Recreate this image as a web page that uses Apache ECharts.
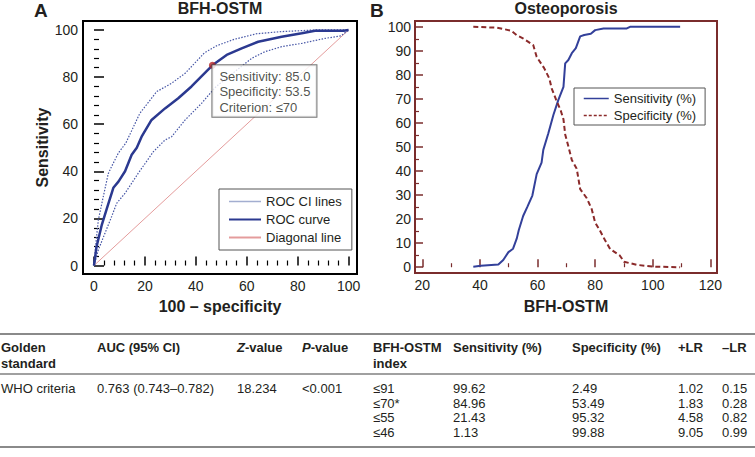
<!DOCTYPE html>
<html><head><meta charset="utf-8">
<script src="https://cdn.jsdelivr.net/npm/echarts@6/dist/echarts.min.js"></script>
<style>html,body{margin:0;padding:0;background:#fff}#c{width:755px;height:457px}</style>
</head><body><div id="c"></div>
<script>
// ---------- Panel A: ROC curve (x = 100 - specificity, y = sensitivity) ----------
const rocX = [0, 1, 3, 5, 7.6, 9.6, 12.2, 14.8, 16.8, 18.7, 22.6, 27.9, 33.1, 38.3, 46.5, 52.1, 58, 64.5, 73.7, 81.6, 86.8, 98, 100];
const rocY = [0, 8, 17, 24, 33, 35.6, 40, 47, 50, 54.7, 61.8, 66.7, 71, 76, 85, 89.4, 92.2, 95, 97.1, 98.6, 99.7, 99.7, 100];
const ciUpX = [0, 0.8, 1.7, 3.6, 5.6, 6.9, 9.6, 12.5, 18, 24.6, 30.5, 35.8, 43.3, 48.2, 55, 63.9, 73.7, 86.8, 100];
const ciUpY = [0, 10, 19.3, 29, 39, 42, 47.8, 52, 64.6, 73.8, 77.4, 81.6, 90.2, 93.3, 96, 98.4, 99.3, 100, 100];
const ciLoX = [0, 1.7, 4.3, 6.9, 8.9, 12.2, 17.4, 23.3, 27.9, 30.5, 35.8, 42.3, 47.5, 52, 57.3, 62, 67.2, 73.7, 81.6, 90.7, 97, 100];
const ciLoY = [0, 6.6, 13.7, 20.7, 26.4, 30.7, 39.2, 48.3, 53.3, 54.7, 61.8, 68.9, 75.5, 79.5, 84, 88, 90.8, 92.9, 94.3, 96.4, 97.5, 100];
const diagX = [0, 100];
const diagY = [0, 100];
const cutX = [46.5];
const cutY = [85.0];
const cutText = ['Sensitivity: 85.0', 'Specificity: 53.5', 'Criterion: \u226470'];
const aTicks = [0, 20, 40, 60, 80, 100];

// ---------- Panel B: sensitivity / specificity vs BFH-OSTM ----------
const sensX = [37.7, 40.3, 46.4, 48.1, 49.9, 51.5, 52.8, 53.5, 55, 56.5, 58.2, 59.7, 61.4, 62, 63.75, 65.5, 67.2, 69, 69.6, 70.7, 71.9, 73.3, 74.8, 76.2, 78.5, 80, 82.9, 91, 92.1, 109.5];
const sensY = [0.2, 0.6, 1.1, 3, 6.3, 7.7, 12, 15.5, 21.3, 25.2, 29.8, 38.7, 43.5, 48.8, 55.7, 63.3, 69.5, 75, 84.8, 86.2, 89, 91.1, 96, 96.6, 97.1, 98.6, 99.3, 99.3, 100, 100];
const specX = [37.7, 46, 50.8, 52.8, 55.1, 58.5, 59.7, 62.3, 64.1, 64.9, 66.4, 68.1, 69, 69.6, 70.7, 71.9, 73.6, 74.8, 77.1, 78.8, 80, 81.7, 83.4, 85.2, 88.6, 90, 94.4, 100.2, 109.5];
const specY = [100, 99.6, 98.4, 96.5, 95.1, 92.4, 87.5, 82.8, 78.5, 74.4, 69.8, 65, 61.5, 55.2, 50.3, 44.6, 41, 32.5, 28.7, 24.2, 18.6, 15.2, 11.3, 7.6, 4.8, 2.3, 1, 0.25, 0];
const bTicksX = [20, 40, 60, 80, 100, 120];
const bTicksY = [0, 10, 20, 30, 40, 50, 60, 70, 80, 90, 100];

// ---------- Table ----------
const tableHead1 = ['Golden', 'AUC (95% CI)', '{i|Z}{b|-value}', '{i|P}{b|-value}', 'BFH-OSTM', 'Sensitivity (%)', 'Specificity (%)', '+LR', '\u2013LR'];
const tableHead2 = ['standard', '', '', '', 'index', '', '', '', ''];
const tableStandard = ['WHO criteria'];
const tableAUC = ['0.763 (0.743\u20130.782)'];
const tableZ = ['18.234'];
const tableP = ['<0.001'];
const tableIndex = ['\u226491', '\u226470*', '\u226455', '\u226446'];
const tableSens = ['99.62', '84.96', '21.43', '1.13'];
const tableSpec = ['2.49', '53.49', '95.32', '99.88'];
const tablePLR = ['1.02', '1.83', '4.58', '9.05'];
const tableNLR = ['0.15', '0.28', '0.82', '0.99'];

// ---------- build ----------
const FONT = '"Liberation Sans", Arial, Helvetica, sans-serif';
const TXT = '#231f20';
const pairs = (xs, ys) => xs.map((x, i) => [x, ys[i]]);
const minorOf = (lo, hi, step, majors) => {
  const r = [];
  for (let v = lo; v <= hi + 1e-9; v += step) { const w = Math.round(v * 100) / 100; if (majors.indexOf(w) < 0) r.push(w); }
  return r;
};
const aMinor = minorOf(0, 100, 4, aTicks);
const bMinorX = minorOf(20, 120, 10, bTicksX);
const bMinorY = minorOf(0, 100, 5, bTicksY);

const A = { xmin: -4.32, xmax: 103.3, ymin: -3.6, ymax: 103.8 };
const B = { xmin: 17.46, xmax: 122.3, ymin: -2.4, ymax: 102.4 };
const maroon = '#7a2c2c';

function axis(dir, grid, ext, majors, minors, color, majLen, minLen, margin, extra) {
  const pos = dir === 'x' ? 'bottom' : 'left';
  const mn = dir === 'x' ? ext.xmin : ext.ymin, mx = dir === 'x' ? ext.xmax : ext.ymax;
  const major = Object.assign({
    type: 'value', gridIndex: grid, position: pos, min: mn, max: mx,
    axisLine: { show: false }, splitLine: { show: false },
    axisTick: { show: true, inside: true, length: majLen, customValues: majors, lineStyle: { color: color, width: 1.5 } },
    axisLabel: { show: true, customValues: majors, margin: margin, fontSize: 14, color: TXT, fontFamily: FONT }
  }, extra || {});
  const minor = {
    type: 'value', gridIndex: grid, position: pos, min: mn, max: mx,
    axisLine: { show: false }, splitLine: { show: false },
    axisTick: { show: true, inside: true, length: minLen, customValues: minors, lineStyle: { color: color, width: 1.2 } },
    axisLabel: { show: false }
  };
  return [major, minor];
}

const nameStyle = { fontSize: 16, fontWeight: 'bold', color: TXT, fontFamily: FONT };
const xAxes = [].concat(
  axis('x', 0, A, aTicks, aMinor, '#000', 9, 5, 5, { name: '100 \u2013 specificity', nameLocation: 'middle', nameGap: 24, nameTextStyle: nameStyle }),
  axis('x', 1, B, bTicksX, bMinorX, maroon, 8, 4, 5, { name: 'BFH-OSTM', nameLocation: 'middle', nameGap: 25, nameTextStyle: nameStyle })
);
const yAxes = [].concat(
  axis('y', 0, A, aTicks, aMinor, '#000', 10, 5, 5, { name: 'Sensitivity', nameLocation: 'middle', nameGap: 33, nameRotate: 90, nameTextStyle: nameStyle }),
  axis('y', 1, B, bTicksY, bMinorY, maroon, 8, 4, 4)
);

// table graphics
const colX = [1, 97, 237, 302, 373, 453, 572, 678, 722];
const rowY = [388, 403, 417, 432];
const g = [];
const txt = (x, y, s, bold) => g.push({
  type: 'text', x: x, y: y, silent: true,
  style: {
    text: s, fill: TXT, verticalAlign: 'middle', align: 'left',
    font: (bold ? 'bold ' : '') + '13px ' + FONT,
    rich: {
      i: { fontStyle: 'italic', fontWeight: 'bold', fontSize: 13, fontFamily: FONT, fill: TXT },
      b: { fontWeight: 'bold', fontSize: 13, fontFamily: FONT, fill: TXT }
    }
  }
});
const hline = (y, w, c) => g.push({ type: 'line', silent: true, shape: { x1: 0, y1: y, x2: 755, y2: y }, style: { stroke: c, lineWidth: w } });
hline(334, 2, '#8a8a8a');
hline(374, 2, '#a0a0a0');
hline(447, 2, '#8a8a8a');
tableHead1.forEach((s, i) => txt(colX[i], 347, s, true));
tableHead2.forEach((s, i) => { if (s) txt(colX[i], 363, s, true); });
txt(colX[0], rowY[0], tableStandard[0]);
txt(colX[1], rowY[0], tableAUC[0]);
txt(colX[2], rowY[0], tableZ[0]);
txt(colX[3], rowY[0], tableP[0]);
rowY.forEach((y, r) => {
  txt(colX[4], y, tableIndex[r]);
  txt(colX[5], y, tableSens[r]);
  txt(colX[6], y, tableSpec[r]);
  txt(colX[7], y, tablePLR[r]);
  txt(colX[8], y, tableNLR[r]);
});
// panel letters
g.push({ type: 'text', x: 34, y: 10, silent: true, style: { text: 'A', font: 'bold 19px ' + FONT, fill: TXT, verticalAlign: 'middle' } });
g.push({ type: 'text', x: 370, y: 10, silent: true, style: { text: 'B', font: 'bold 19px ' + FONT, fill: TXT, verticalAlign: 'middle' } });

const legendCommon = {
  orient: 'vertical', backgroundColor: '#fff', borderColor: '#555', borderWidth: 1, borderRadius: 0,
  textStyle: { fontSize: 13, color: TXT, fontFamily: FONT },
  itemStyle: { opacity: 0, borderWidth: 0 }
};

const option = {
  animation: false,
  backgroundColor: '#fff',
  textStyle: { fontFamily: FONT },
  title: [
    { text: 'BFH-OSTM', left: 220, top: 0, textAlign: 'center', padding: 0, textStyle: { fontSize: 16, fontWeight: 'bold', color: TXT, fontFamily: FONT } },
    { text: 'Osteoporosis', left: 566, top: 0, textAlign: 'center', padding: 0, textStyle: { fontSize: 16, fontWeight: 'bold', color: TXT, fontFamily: FONT } }
  ],
  grid: [
    { left: 83, top: 21, width: 274, height: 253, show: true, borderColor: '#000', borderWidth: 2, backgroundColor: 'transparent' },
    { left: 415, top: 21, width: 302, height: 252, show: true, borderColor: maroon, borderWidth: 2, backgroundColor: 'transparent' }
  ],
  xAxis: xAxes,
  yAxis: yAxes,
  legend: [
    Object.assign({}, legendCommon, {
      left: 219, top: 189, padding: [6, 10, 6, 9], itemGap: 5, itemWidth: 32, itemHeight: 14,
      data: [
        { name: 'ROC CI lines', lineStyle: { type: 'solid', color: '#a3aed0', width: 1.5 } },
        { name: 'ROC curve', lineStyle: { width: 2 } },
        { name: 'Diagonal line' }
      ]
    }),
    Object.assign({}, legendCommon, {
      left: 574, top: 88, padding: [4, 9, 3, 9], itemGap: 4, itemWidth: 25, itemHeight: 14,
      data: [
        { name: 'Sensitivity (%)', lineStyle: { width: 1.5 } },
        { name: 'Specificity (%)', lineStyle: { width: 1.5, type: [3, 2] } }
      ]
    })
  ],
  series: [
    { name: 'Diagonal line', type: 'line', xAxisIndex: 0, yAxisIndex: 0, symbol: 'none', data: pairs(diagX, diagY), lineStyle: { color: '#e49c9c', width: 1 }, itemStyle: { color: '#e49c9c' } },
    { name: 'ROC CI lines', type: 'line', xAxisIndex: 0, yAxisIndex: 0, symbol: 'none', data: pairs(ciUpX, ciUpY), lineStyle: { color: '#4656a6', width: 1.2, type: [1.5, 1.5] }, itemStyle: { color: '#9aa6cc' } },
    { name: 'ROC CI lines', type: 'line', xAxisIndex: 0, yAxisIndex: 0, symbol: 'none', data: pairs(ciLoX, ciLoY), lineStyle: { color: '#4656a6', width: 1.2, type: [1.5, 1.5] }, itemStyle: { color: '#9aa6cc' } },
    { name: 'ROC curve', type: 'line', xAxisIndex: 0, yAxisIndex: 0, symbol: 'none', data: pairs(rocX, rocY), lineStyle: { color: '#2b3990', width: 2.5 }, itemStyle: { color: '#2b3990' } },
    {
      name: 'cut', type: 'scatter', xAxisIndex: 0, yAxisIndex: 0, z: 10, symbolSize: 7, data: pairs(cutX, cutY),
      itemStyle: { color: '#b52525' },
      label: {
        show: true, position: [3.5, 3.5], formatter: cutText.join('\n'), fontSize: 13, lineHeight: 15.5, color: TXT, fontFamily: FONT,
        backgroundColor: '#fff', borderColor: '#555', borderWidth: 1, padding: [3, 6, 2, 7]
      }
    },
    { name: 'Sensitivity (%)', type: 'line', xAxisIndex: 2, yAxisIndex: 2, symbol: 'none', data: pairs(sensX, sensY), lineStyle: { color: '#33409a', width: 2 }, itemStyle: { color: '#33409a' } },
    { name: 'Specificity (%)', type: 'line', xAxisIndex: 2, yAxisIndex: 2, symbol: 'none', data: pairs(specX, specY), lineStyle: { color: '#8b2a2a', width: 2, type: [5, 3] }, itemStyle: { color: '#8b2a2a' } }
  ],
  graphic: g
};

const chart = echarts.init(document.getElementById('c'), null, { renderer: 'svg' });
chart.setOption(option);
</script>
</body></html>
